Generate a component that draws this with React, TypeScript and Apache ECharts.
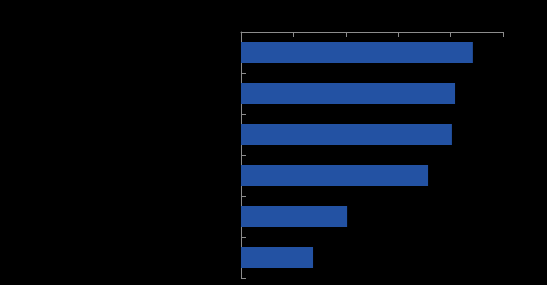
import React, { useEffect, useRef } from "react";
import * as echarts from "echarts";

const categories = ["A", "B", "C", "D", "E", "F"];
const values = [88.5, 81.7, 80.5, 71.4, 40.5, 27.5];
const axisMax = 100;
const axisInterval = 20;

export default function App() {
  const ref = useRef<HTMLDivElement>(null);
  useEffect(() => {
    if (!ref.current) return;
    const chart = echarts.init(ref.current, null, { renderer: "svg" });
    chart.setOption({
      animation: false,
      backgroundColor: "#000000",
      grid: { left: 241, top: 32, right: 44, bottom: 7, containLabel: false },
      xAxis: {
        type: "value",
        position: "top",
        min: 0,
        max: axisMax,
        interval: axisInterval,
        axisLine: { show: true, lineStyle: { color: "#8c8c8c", width: 1 } },
        axisTick: { show: true, inside: true, length: 5, lineStyle: { color: "#8c8c8c" } },
        axisLabel: { show: false },
        splitLine: { show: false },
      },
      yAxis: {
        type: "category",
        data: categories,
        inverse: true,
        axisLine: { show: true, lineStyle: { color: "#8c8c8c", width: 1 } },
        axisTick: { show: true, inside: true, length: 5, lineStyle: { color: "#8c8c8c" } },
        axisLabel: { show: false },
      },
      series: [
        {
          type: "bar",
          data: values,
          barWidth: 21,
          itemStyle: { color: "#2352a3" },
        },
      ],
    });
    return () => chart.dispose();
  }, []);
  return (
    <div
      ref={ref}
      style={{ width: 547, height: 285, position: "fixed", left: 0, top: 0 }}
    />
  );
}
